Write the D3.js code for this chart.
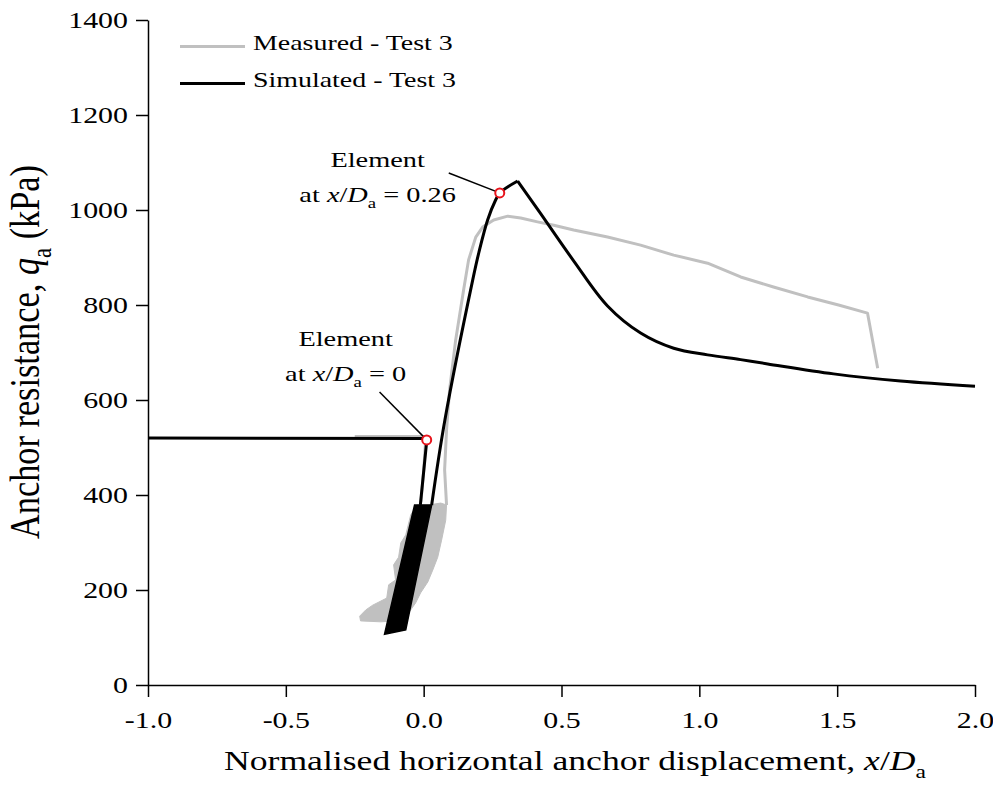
<!DOCTYPE html>
<html>
<head>
<meta charset="utf-8">
<script src="https://cdn.jsdelivr.net/npm/d3@7"></script>
<style>
    body { margin: 0; background: #fff; }
    text { font-family: "Liberation Serif", "Times New Roman", serif; fill: #000; }
</style>
</head>
<body>
<svg id="chart" width="993" height="794"></svg>
<script>
// axis ticks
const xTicks = [-1.0, -0.5, 0.0, 0.5, 1.0, 1.5, 2.0];
const yTicks = [0, 200, 400, 600, 800, 1000, 1200, 1400];

// series names for the legend
const seriesNames = ["Measured - Test 3", "Simulated - Test 3"];
const seriesColors = ["#c0c0c0", "#000000"];

// measured - test 3 (x/Da, qa kPa)
const measuredStart = [[-0.25, 523], [0.008, 523], [0.0, 450], [-0.01, 385]];
const measuredBand = [[0.018, 379], [0.062, 383], [0.083, 379], [0.080, 347], [0.065, 305], [0.051, 269],
    [0.033, 242], [0.015, 217], [-0.011, 194], [-0.029, 173], [-0.047, 158], [-0.069, 141], [-0.102, 135],
    [-0.156, 133], [-0.229, 135], [-0.232, 145], [-0.210, 158], [-0.185, 168], [-0.134, 183], [-0.127, 211],
    [-0.102, 221], [-0.109, 253], [-0.091, 269], [-0.083, 299], [-0.065, 316], [-0.047, 358], [-0.025, 379]];
const measuredMain = [[0.083, 379], [0.076, 453], [0.083, 537], [0.094, 621], [0.116, 726], [0.145, 832],
    [0.163, 895], [0.189, 943], [0.214, 964], [0.254, 979], [0.305, 987], [0.352, 983], [0.413, 975],
    [0.472, 968], [0.544, 958], [0.667, 943], [0.787, 926], [0.907, 905], [1.03, 888], [1.15, 859],
    [1.269, 838], [1.393, 817], [1.505, 800], [1.61, 783], [1.647, 667]];

// simulated - test 3
const simulatedStart = [[-1.0, 520], [0.012, 519], [-0.012, 379]];
const simulatedBand = [[-0.033, 379], [0.029, 379], [-0.065, 116], [-0.142, 107]];
const simulatedRise = [[0.029, 379], [0.077, 558], [0.178, 853], [0.2, 910], [0.232, 979], [0.261, 1021],
    [0.276, 1036], [0.341, 1061]];
const simulatedFall = [[0.341, 1061], [0.42, 996], [0.544, 893], [0.667, 798], [0.787, 741],
    [0.907, 709], [1.03, 695], [1.15, 685], [1.248, 676], [1.487, 655], [1.73, 640], [2.0, 629]];

// highlighted elements
const elementX = [0.011, 0.276];
const elementQ = [516, 1036];
const elementText = ["0", "0.26"];

const svg = d3.select("#chart");
const x = d3.scaleLinear().domain([-1, 2]).range([148, 975]);
const y = d3.scaleLinear().domain([0, 1400]).range([685, 20]);
const sx = 1.33; // the figure is stretched sideways

const line = d3.line().x(d => x(d[0])).y(d => y(d[1]));
const smooth = d3.line().x(d => x(d[0])).y(d => y(d[1])).curve(d3.curveCatmullRom.alpha(0.5));

// text with italic / subscript parts
function richText(sel, parts, size) {
    let shift = 0;
    parts.forEach(p => {
        let t = sel.append("tspan").text(p.t);
        if (p.i) t.attr("font-style", "italic");
        if (p.sub) {
            t.attr("font-size", size * 0.66).attr("dy", size * 0.28);
            shift = size * 0.28;
        } else if (shift) {
            t.attr("dy", -shift);
            shift = 0;
        }
    });
}

// measured
svg.append("path")
    .attr("d", line(measuredStart))
    .attr("fill", "none").attr("stroke", seriesColors[0]).attr("stroke-width", 3);
svg.append("path")
    .attr("d", line(measuredBand) + "Z")
    .attr("fill", seriesColors[0]).attr("stroke", seriesColors[0]).attr("stroke-width", 1);
svg.append("path")
    .attr("d", line(measuredMain))
    .attr("fill", "none").attr("stroke", seriesColors[0]).attr("stroke-width", 3)
    .attr("stroke-linejoin", "round");

// simulated
svg.append("path")
    .attr("d", line(simulatedStart))
    .attr("fill", "none").attr("stroke", seriesColors[1]).attr("stroke-width", 3);
svg.append("path")
    .attr("d", line(simulatedBand) + "Z")
    .attr("fill", seriesColors[1]).attr("stroke", seriesColors[1]).attr("stroke-width", 1.5);
[simulatedRise, simulatedFall].forEach(seg =>
    svg.append("path")
        .attr("d", smooth(seg))
        .attr("fill", "none").attr("stroke", seriesColors[1]).attr("stroke-width", 3)
        .attr("stroke-linejoin", "miter")
);

// axes
const gx = svg.append("g")
    .attr("transform", `translate(0,${y(0)})`)
    .call(d3.axisBottom(x).tickValues(xTicks).tickFormat(d => d.toFixed(1))
        .tickSize(12).tickSizeOuter(0).tickPadding(15));
const gy = svg.append("g")
    .attr("transform", `translate(${x(-1)},0)`)
    .call(d3.axisLeft(y).tickValues(yTicks).tickFormat(d => d)
        .tickSize(12).tickSizeOuter(0).tickPadding(8));

[gx, gy].forEach(g => {
    g.selectAll("path, line").attr("stroke", "#000").attr("stroke-width", 1.5);
    g.selectAll("text").attr("font-size", 22.5).attr("transform", `scale(${sx},1)`);
});
gy.selectAll("text").attr("x", -20 / sx);

// axis titles
let xTitle = svg.append("text")
    .attr("transform", "translate(575,770) scale(1.32,1)")
    .attr("text-anchor", "middle").attr("font-size", 27);
richText(xTitle, [{t: "Normalised horizontal anchor displacement, "}, {t: "x", i: true}, {t: "/"},
    {t: "D", i: true}, {t: "a", sub: true}], 27);

let yTitle = svg.append("text")
    .attr("transform", "translate(39,352) rotate(-90) scale(1.04,1.25)")
    .attr("text-anchor", "middle").attr("font-size", 33);
richText(yTitle, [{t: "Anchor resistance, "}, {t: "q", i: true}, {t: "a", sub: true}, {t: " (kPa)"}], 33);

// legend
seriesNames.forEach((name, i) => {
    let ly = 46.5 + i * 37;
    svg.append("line")
        .attr("x1", 180).attr("x2", 245).attr("y1", ly).attr("y2", ly)
        .attr("stroke", seriesColors[i]).attr("stroke-width", 3);
    svg.append("text")
        .attr("transform", `translate(253,${ly + 3.5}) scale(${sx},1)`)
        .attr("font-size", 21)
        .text(name);
});

// element annotations: label centre, label baseline and leader start in data units
const labelX = [-0.283, -0.167];
const labelQ = [714, 1090];
const leaderX = [-0.16, 0.091];
const leaderQ = [617, 1078];

elementX.forEach((ex, i) => {
    svg.append("line")
        .attr("x1", x(leaderX[i])).attr("y1", y(leaderQ[i]))
        .attr("x2", x(ex)).attr("y2", y(elementQ[i]))
        .attr("stroke", "#000").attr("stroke-width", 1.5);

    svg.append("text")
        .attr("transform", `translate(${x(labelX[i])},${y(labelQ[i])}) scale(1.35,1)`)
        .attr("text-anchor", "middle").attr("font-size", 21)
        .text("Element");
    let t2 = svg.append("text")
        .attr("transform", `translate(${x(labelX[i])},${y(labelQ[i]) + 35}) scale(1.35,1)`)
        .attr("text-anchor", "middle").attr("font-size", 21);
    richText(t2, [{t: "at "}, {t: "x", i: true}, {t: "/"}, {t: "D", i: true}, {t: "a", sub: true},
        {t: " = " + elementText[i]}], 21);
});

svg.selectAll(".element")
    .data(elementX)
    .join("circle")
    .attr("class", "element")
    .attr("cx", d => x(d))
    .attr("cy", (d, i) => y(elementQ[i]))
    .attr("r", 4.5)
    .attr("fill", "#fff")
    .attr("stroke", "#e8141c")
    .attr("stroke-width", 2);
</script>
</body>
</html>
